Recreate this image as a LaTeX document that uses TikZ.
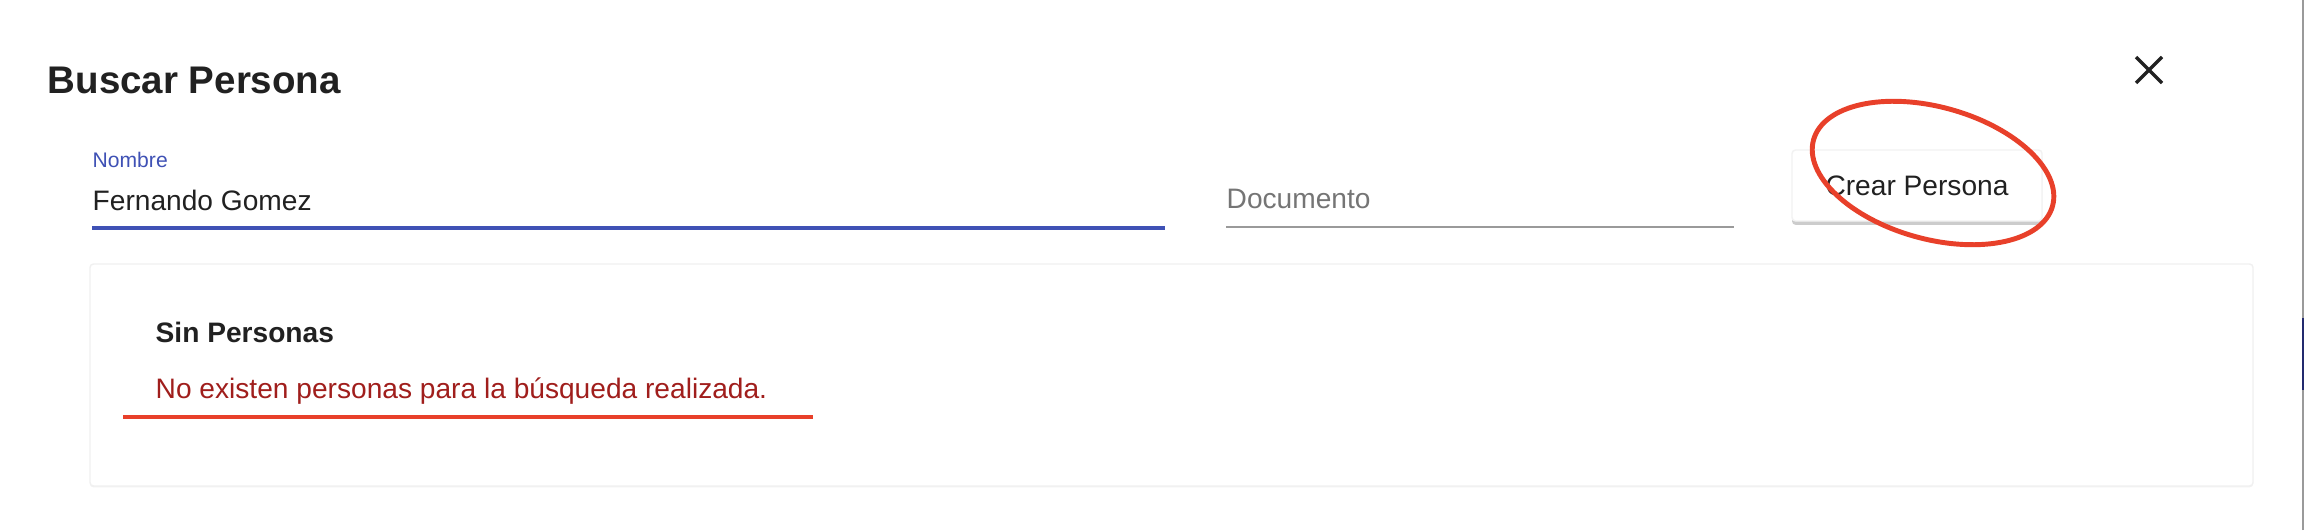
\documentclass[tikz,border=0pt]{standalone}
\usepackage{fontspec}
\setmainfont{Liberation Sans}
\usetikzlibrary{shadows}
\definecolor{textdark}{HTML}{212121}
\definecolor{fieldblue}{HTML}{3F51B5}
\definecolor{hintgray}{HTML}{757575}
\definecolor{linegray}{HTML}{9A9A9A}
\definecolor{errred}{HTML}{A01E1C}
\definecolor{markred}{HTML}{E8402A}
\definecolor{winnavy}{HTML}{232A6E}
\begin{document}
\begin{tikzpicture} [x = 0.01cm, y = 0.01cm,
		txt/.style = {inner sep = 0pt, anchor = base west, text = textdark, font = \fontsize{8}{9}\selectfont},
		redmark/.style = {draw = markred, line width = 1.4pt}]
			\useasboundingbox[fill = white] (0,0) rectangle (2304,530);
			
			\node [txt, font = \fontsize{10.95}{12}\selectfont\bfseries] (titulo) at (47,436) {Buscar Persona};
			\draw [line width = 0.95pt, textdark] (2136,473) -- (2162,447) (2136,447) -- (2162,473);
			
			\node [txt, text = fieldblue, font = \fontsize{6}{7}\selectfont] (nombre) at (92,362) {Nombre};
			\node [txt] (valor) at (92,320) {Fernando Gomez};
			\draw [fieldblue, line width = 1.14pt] (92,302) -- (1165,302);
			
			\node [txt, text = hintgray] (documento) at (1226,321) {Documento};
			\draw [linegray, line width = 0.57pt] (1226,303) -- (1734,303);
			
			\draw [fill = white, draw = black!5, rounded corners = 1pt, drop shadow = {opacity = 0.4, shadow xshift = 0pt, shadow yshift = -1.1pt}] (1792,380) rectangle (2042,309);
			\node [txt, anchor = center] (crear) at (1917,344) {Crear Persona};
			\draw [redmark, rotate around = {-15.5:(1933,357)}] (1933,357) ellipse [x radius = 124, y radius = 66];
			
			\draw [fill = white, draw = black!6, rounded corners = 1pt, drop shadow = {opacity = 0.1, shadow xshift = 0pt, shadow yshift = -0.4pt}] (90,266) rectangle (2253,44);
			\node [txt, font = \fontsize{8}{9}\selectfont\bfseries] (sin) at (155,188) {Sin Personas};
			\node [txt, text = errred] (mensaje) at (155,132) {No existen personas para la búsqueda realizada.};
			\draw [redmark] (123,113) -- (813,113);
			
			\draw [linegray, line width = 0.5pt] (2303,0) -- (2303,530);
			\fill [winnavy] (2302,140) rectangle (2304,212);
		\end{tikzpicture}
\end{document}
